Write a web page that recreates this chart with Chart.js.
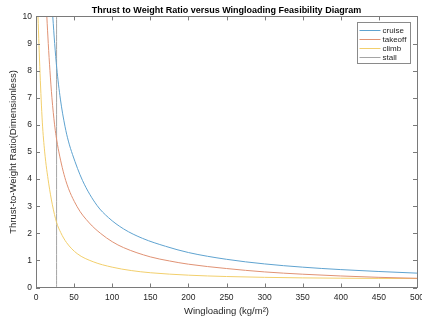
<!DOCTYPE html>
<html lang="en">
<head>
<meta charset="UTF-8">
<script src="https://cdn.jsdelivr.net/npm/chart.js"></script>
<title>Thrust to Weight Ratio</title>
<style>
  body { margin: 0; background: #fff; }
  #wrap { width: 422px; height: 323px; }
</style>
</head>
<body>
<div id="wrap"><canvas id="myChart"></canvas></div>
<script>
// wing loading (kg/m^2) vs thrust-to-weight for each constraint
const cruiseWS = [22, 24.5, 27.2, 32, 38, 42.5, 48, 61, 80, 95, 115, 140, 170, 200, 250, 300, 350, 400, 450, 500];
const cruiseTW = [10, 9.0, 8.1, 6.95, 5.95, 5.4, 4.9, 3.95, 3.03, 2.58, 2.16, 1.81, 1.52, 1.29, 1.04, 0.87, 0.75, 0.66, 0.59, 0.53];

const takeoffWS = [14.2, 16.1, 18.3, 20.9, 24.4, 26.3, 30, 39, 54, 70, 85, 100, 115, 150, 175, 200, 250, 300, 350, 400, 450, 500];
const takeoffTW = [10, 9, 8, 7, 6, 5.6, 5, 3.95, 2.98, 2.38, 1.99, 1.69, 1.47, 1.13, 0.98, 0.86, 0.70, 0.575, 0.49, 0.425, 0.375, 0.34];

const climbWS = [2.6, 5.3, 8.3, 11.4, 16.6, 21.5, 27, 32.4, 40, 54, 75, 100, 125, 150, 200, 250, 300, 350, 400, 450, 500];
const climbTW = [10, 7.9, 6.1, 5.0, 3.85, 3.05, 2.4, 2.03, 1.66, 1.25, 0.95, 0.75, 0.625, 0.545, 0.455, 0.405, 0.375, 0.355, 0.343, 0.335, 0.33];

const stallWS = [27, 27];
const stallTW = [0, 10];

const xTicks = [0, 50, 100, 150, 200, 250, 300, 350, 400, 450, 500];
const yTicks = [0, 1, 2, 3, 4, 5, 6, 7, 8, 9, 10];

function pts(xs, ys) {
    return xs.map(function (x, i) { return { x: x, y: ys[i] }; });
}

Chart.defaults.font.family = "'Liberation Sans', Arial, sans-serif";
Chart.defaults.color = '#262626';

// box round the axes, ticks pointing inwards, and the legend in the corner
const axesBox = {
    id: 'axesBox',
    afterDraw: function (chart) {
        const ctx = chart.ctx;
        const a = chart.chartArea;
        const xs = chart.scales.x, ys = chart.scales.y;
        const tl = 4;
        ctx.save();
        ctx.strokeStyle = '#7a7a7a';
        ctx.lineWidth = 1;
        ctx.beginPath();
        xs.ticks.forEach(function (t) {
            const px = Math.round(xs.getPixelForValue(t.value)) + 0.5;
            ctx.moveTo(px, a.bottom); ctx.lineTo(px, a.bottom - tl);
            ctx.moveTo(px, a.top); ctx.lineTo(px, a.top + tl);
        });
        ys.ticks.forEach(function (t) {
            const py = Math.round(ys.getPixelForValue(t.value)) + 0.5;
            ctx.moveTo(a.left, py); ctx.lineTo(a.left + tl, py);
            ctx.moveTo(a.right, py); ctx.lineTo(a.right - tl, py);
        });
        ctx.stroke();
        ctx.strokeRect(Math.round(a.left) + 0.5, Math.round(a.top) + 0.5,
            Math.round(a.right - a.left), Math.round(a.bottom - a.top));

        // legend
        const lx = 357.5, ly = 22.5, lw = 53, lh = 41;
        ctx.fillStyle = '#fff';
        ctx.fillRect(lx, ly, lw, lh);
        ctx.strokeStyle = '#8a8a8a';
        ctx.strokeRect(lx, ly, lw, lh);
        ctx.font = "8px 'Liberation Sans', Arial, sans-serif";
        ctx.textBaseline = 'middle';
        chart.data.datasets.forEach(function (ds, i) {
            const y = Math.round(ly + 7 + i * 9.3) + 0.5;
            ctx.strokeStyle = ds.borderColor;
            ctx.beginPath();
            ctx.moveTo(lx + 2, y); ctx.lineTo(lx + 23, y);
            ctx.stroke();
            ctx.fillStyle = '#262626';
            ctx.fillText(ds.label, lx + 25, y);
        });
        ctx.restore();
    }
};

new Chart(document.getElementById('myChart'), {
    type: 'line',
    data: {
        datasets: [
            { label: 'cruise', data: pts(cruiseWS, cruiseTW), borderColor: 'rgb(95,163,208)' },
            { label: 'takeoff', data: pts(takeoffWS, takeoffTW), borderColor: 'rgb(224,146,116)' },
            { label: 'climb', data: pts(climbWS, climbTW), borderColor: 'rgb(242,207,108)' },
            { label: 'stall', data: pts(stallWS, stallTW), borderColor: 'rgb(165,165,165)' }
        ]
    },
    options: {
        responsive: true,
        maintainAspectRatio: false,
        animation: false,
        layout: { padding: { top: 0, right: 5, left: 0, bottom: 0 } },
        elements: {
            line: { borderWidth: 1, cubicInterpolationMode: 'monotone' },
            point: { radius: 0 }
        },
        plugins: {
            legend: { display: false },
            tooltip: { enabled: false },
            title: {
                display: true,
                fullSize: false,
                text: 'Thrust to Weight Ratio versus Wingloading Feasibility Diagram',
                color: '#000',
                font: { size: 9, weight: 'bold' },
                padding: { top: 5.6, bottom: 0 }
            }
        },
        scales: {
            x: {
                type: 'linear',
                min: 0, max: 500,
                grid: { display: false, drawTicks: false },
                border: { display: false },
                afterBuildTicks: function (s) { s.ticks = xTicks.map(function (v) { return { value: v }; }); },
                afterFit: function (s) { s.height = 35.5; s.paddingLeft = 0; s.paddingRight = 0; },
                ticks: { font: { size: 8.5 }, padding: 5, maxRotation: 0, autoSkip: false },
                title: { display: true, text: 'Wingloading (kg/m\u00B2)', font: { size: 9.5 }, padding: { top: 0, bottom: 6 } }
            },
            y: {
                min: 0, max: 10,
                grid: { display: false, drawTicks: false },
                border: { display: false },
                afterBuildTicks: function (s) { s.ticks = yTicks.map(function (v) { return { value: v }; }); },
                afterFit: function (s) { s.width = 36; s.paddingTop = 0; s.paddingBottom = 0; },
                ticks: { font: { size: 8.5 }, padding: 4, autoSkip: false },
                title: { display: true, text: 'Thrust-to-Weight Ratio(Dimensionless)', font: { size: 9.5 }, padding: { top: 8, bottom: 0 } }
            }
        }
    },
    plugins: [axesBox]
});
</script>
</body>
</html>
